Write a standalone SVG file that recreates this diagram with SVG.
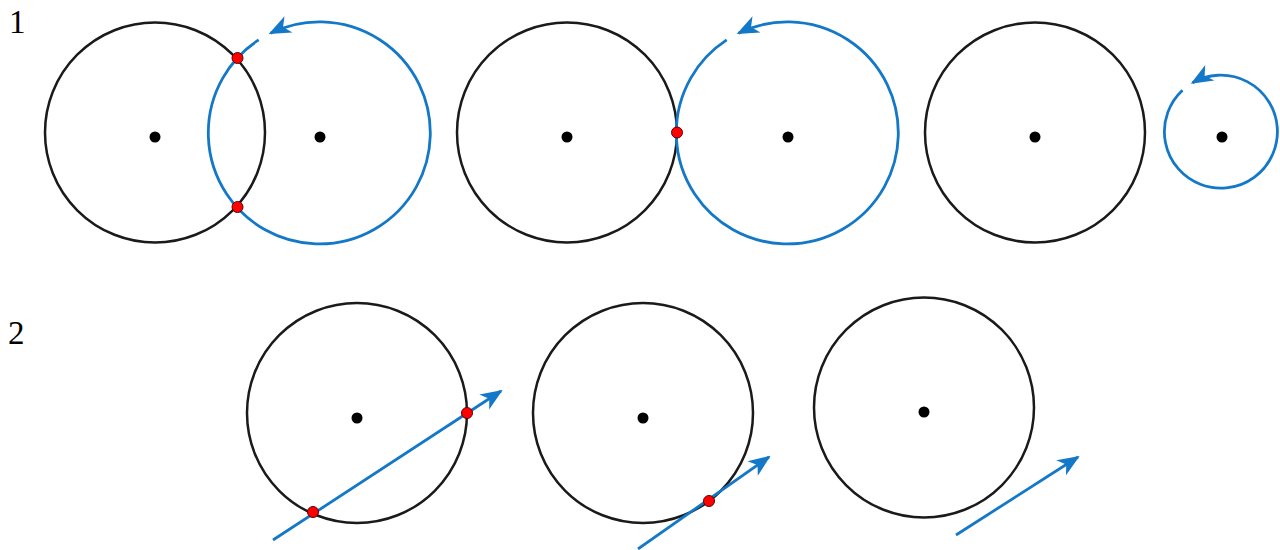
<svg xmlns="http://www.w3.org/2000/svg" width="1280" height="550" viewBox="0 0 1280 550">
<style>
.circ{fill:none;stroke:#1a1a1a;stroke-width:2.5}
.blue{fill:none;stroke:#1478c8;stroke-width:2.8}
.dot{fill:#000}
.pt{fill:#ff0000;stroke:#600000;stroke-width:1}
.lbl{font-family:"Liberation Serif","Times New Roman",serif;font-size:33px;fill:#000}
</style>
<defs>
<marker id="ah" markerUnits="userSpaceOnUse" markerWidth="24" markerHeight="20" refX="20" refY="10" orient="auto" overflow="visible">
<path d="M0,1 L22,10 L0,19 L6,10 z" fill="#1478c8"/>
</marker>
</defs>
<rect width="1280" height="550" fill="#fff"/>
<text class="lbl" x="9" y="33">1</text>
<text class="lbl" x="8" y="344">2</text>

<g id="n1a"><circle class="circ" cx="155" cy="132.5" r="110"/><circle class="dot" cx="155" cy="137" r="5.5"/></g>
<g id="n1b"><circle class="dot" cx="320" cy="137" r="5.5"/></g>
<g id="n2a"><circle class="circ" cx="567" cy="132.5" r="110"/><circle class="dot" cx="567" cy="137" r="5.5"/></g>
<g id="n2b"><circle class="dot" cx="788" cy="137" r="5.5"/></g>
<g id="n3a"><circle class="circ" cx="1035" cy="132.5" r="110"/><circle class="dot" cx="1035" cy="137" r="5.5"/></g>
<g id="n3b"><circle class="dot" cx="1222" cy="137" r="5.5"/></g>

<g id="n4"><circle class="circ" cx="357" cy="413" r="110"/><circle class="dot" cx="357" cy="418" r="5.5"/></g>
<g id="n5"><circle class="circ" cx="643" cy="413" r="110"/><circle class="dot" cx="643" cy="418" r="5.5"/></g>
<g id="n6"><circle class="circ" cx="924" cy="407.5" r="110"/><circle class="dot" cx="924" cy="412" r="5.5"/></g>

<g id="connectors">
<path class="blue" d="M258.7,39.9 A111,111 0 1 0 270.5,33.2" marker-end="url(#ah)"/>
<path class="blue" d="M726.7,39.9 A111,111 0 1 0 738.5,33.2" marker-end="url(#ah)"/>
<path class="blue" d="M1182.5,90.2 A56.5,56.5 0 1 0 1192.5,82.8" marker-end="url(#ah)"/>
<line class="blue" x1="273" y1="540" x2="501" y2="391" marker-end="url(#ah)"/>
<line class="blue" x1="638" y1="549" x2="769" y2="457" marker-end="url(#ah)"/>
<line class="blue" x1="956" y1="535" x2="1078" y2="457" marker-end="url(#ah)"/>
</g>

<g id="points">
<circle class="pt" cx="237.5" cy="58" r="5.5"/>
<circle class="pt" cx="237.5" cy="207" r="5.5"/>
<circle class="pt" cx="677" cy="132.5" r="5.5"/>
<circle class="pt" cx="313" cy="512" r="5.5"/>
<circle class="pt" cx="467" cy="413" r="5.5"/>
<circle class="pt" cx="709" cy="501" r="5.5"/>
</g>
</svg>
